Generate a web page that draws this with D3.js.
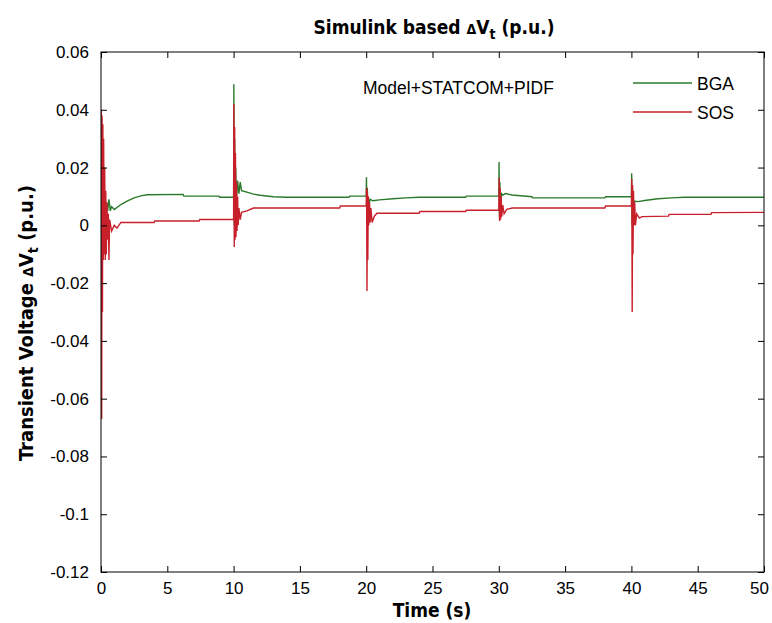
<!DOCTYPE html>
<html>
<head>
<meta charset="utf-8">
<script src="https://cdn.jsdelivr.net/npm/d3@7"></script>
<style>
  body { margin: 0; background: #fff; }
  text { fill: #000; }
</style>
</head>
<body>
<div id="chart"></div>
<script>
// time ticks and voltage ticks
var xTicks = [0, 5, 10, 15, 20, 25, 30, 35, 40, 45, 50];
var yTicks = [0.06, 0.04, 0.02, 0, -0.02, -0.04, -0.06, -0.08, -0.1, -0.12];

// BGA response [time s, dVt p.u.]
var bgaPoints = [
    [0, 0], [0.03, 0.0125], [0.06, 0.0], [0.1, 0.011], [0.14, 0.002], [0.2, 0.009], [0.3, 0.004],
    [0.4, 0.008], [0.5, 0.005], [0.6, 0.009], [0.7, 0.005], [0.8, 0.0065], [1.0, 0.0055],
    [1.5, 0.0072], [2.0, 0.0085], [2.5, 0.0095], [3.0, 0.0102], [3.5, 0.0106], [6.2, 0.0107],
    [6.25, 0.0101], [8.9, 0.0101], [8.95, 0.0097], [9.98, 0.0097],
    [10, 0.0097], [10.02, 0.0488], [10.05, 0.0], [10.08, 0.03], [10.12, 0.005], [10.16, 0.02],
    [10.2, 0.008], [10.3, 0.0155], [10.4, 0.011], [10.5, 0.015], [10.6, 0.012], [11, 0.0115],
    [11.5, 0.0108], [12, 0.0104], [13, 0.0099], [14, 0.0097], [18.7, 0.0097], [18.75, 0.0101],
    [19.98, 0.0101],
    [20, 0.0101], [20.02, 0.0166], [20.05, 0.002], [20.08, 0.013], [20.12, 0.005], [20.16, 0.01],
    [20.2, 0.0073], [20.3, 0.009], [20.5, 0.0085], [21, 0.0088], [22, 0.0092], [23, 0.0095],
    [24, 0.0097], [27.5, 0.0097], [27.55, 0.0101], [29.98, 0.0101],
    [30, 0.0101], [30.02, 0.0219], [30.05, 0.003], [30.08, 0.015], [30.12, 0.007], [30.2, 0.011],
    [30.3, 0.0105], [30.5, 0.011], [31, 0.0105], [32.5, 0.0099], [32.55, 0.0095], [38, 0.0095],
    [38.05, 0.0099], [39.98, 0.0099],
    [40, 0.0099], [40.02, 0.018], [40.05, 0.0], [40.08, 0.012], [40.12, 0.004], [40.2, 0.0084],
    [40.5, 0.0082], [41, 0.0086], [42, 0.0092], [43, 0.0095], [44, 0.0097], [50, 0.0097]
];

// SOS response [time s, dVt p.u.]
var sosPoints = [
    [0, 0], [0.02, 0.040], [0.05, -0.067], [0.08, 0.038], [0.11, -0.03], [0.14, 0.035],
    [0.17, -0.012], [0.2, 0.03], [0.24, -0.01], [0.28, 0.02], [0.32, -0.012], [0.36, 0.012],
    [0.4, -0.01], [0.45, 0.008], [0.5, -0.005], [0.55, 0.004], [0.6, -0.012], [0.65, 0.002],
    [0.8, -0.002], [1.0, 0.0], [1.2, -0.001], [1.5, 0.001], [4.0, 0.001], [4.05, 0.0015],
    [7.4, 0.0015], [7.45, 0.002], [9.98, 0.002],
    [10, 0.002], [10.02, 0.042], [10.05, -0.0075], [10.08, 0.034], [10.11, -0.005], [10.14, 0.025],
    [10.18, -0.004], [10.22, 0.015], [10.26, -0.002], [10.3, 0.01], [10.35, 0.0], [10.4, 0.006],
    [10.5, 0.002], [10.6, 0.0045], [11.0, 0.005], [11.5, 0.006], [18.0, 0.006], [18.05, 0.0067],
    [19.98, 0.0067],
    [20, 0.0067], [20.03, 0.013], [20.06, -0.0227], [20.09, 0.012], [20.12, -0.012], [20.16, 0.01],
    [20.2, 0.0], [20.25, 0.008], [20.3, 0.001], [20.35, 0.006], [20.45, 0.001], [20.6, 0.003],
    [20.8, 0.0042], [24, 0.0042], [24.05, 0.0048], [27.5, 0.0048], [27.55, 0.0052], [29.98, 0.0052],
    [30, 0.0052], [30.03, 0.0165], [30.06, 0.0015], [30.1, 0.013], [30.14, 0.002], [30.18, 0.01],
    [30.22, 0.003], [30.3, 0.007], [30.4, 0.004], [30.6, 0.0055], [31, 0.006], [38, 0.006],
    [38.05, 0.0067], [39.98, 0.0067],
    [40, 0.0067], [40.03, 0.016], [40.06, -0.030], [40.09, 0.014], [40.12, -0.01], [40.16, 0.012],
    [40.2, 0.0], [40.25, 0.008], [40.3, 0.0], [40.4, 0.004], [40.6, 0.0025], [40.8, 0.003],
    [42.8, 0.0032], [42.85, 0.0038], [46, 0.0038], [46.05, 0.0044], [50, 0.0045]
];

var seriesNames = ["BGA", "SOS"];
var seriesColors = ["#2b7a2b", "#c8202a"];

const margin = {top: 52, right: 8, bottom: 51, left: 101},
    width = 772 - margin.left - margin.right,
    height = 623 - margin.top - margin.bottom;

const narrow = "'Liberation Sans Narrow', 'DejaVu Sans Condensed', Arial, sans-serif";
const regular = "'Liberation Sans', Arial, sans-serif";

const svgRoot = d3.select("#chart")
    .append("svg")
    .attr("width", 772)
    .attr("height", 623);

const svg = svgRoot.append("g")
    .attr("transform", `translate(${margin.left}, ${margin.top})`);

const x = d3.scaleLinear().domain([0, 50]).range([0, width]);
const y = d3.scaleLinear().domain([-0.12, 0.06]).range([height, 0]);

// clip
svg.append("defs").append("clipPath").attr("id", "clip")
    .append("rect").attr("width", width).attr("height", height);

// lines
const line = d3.line().x(d => x(d[0])).y(d => y(d[1]));
const plot = svg.append("g").attr("clip-path", "url(#clip)");
plot.append("path").datum(bgaPoints)
    .attr("fill", "none").attr("stroke", seriesColors[0]).attr("stroke-width", 1.4)
    .attr("d", line);
plot.append("path").datum(sosPoints)
    .attr("fill", "none").attr("stroke", seriesColors[1]).attr("stroke-width", 1.4)
    .attr("d", line);

// axes, ticks pointing inwards like matlab
function fmt(d) { return d === 0 ? "0" : String(d); }
const xAxis = svg.append("g")
    .attr("transform", `translate(0, ${height})`)
    .call(d3.axisBottom(x).tickValues(xTicks).tickFormat(fmt).tickSize(-6).tickPadding(10).tickSizeOuter(0));
const yAxis = svg.append("g")
    .call(d3.axisLeft(y).tickValues(yTicks).tickFormat(fmt).tickSize(-6).tickPadding(12).tickSizeOuter(0));
svg.append("g")
    .call(d3.axisTop(x).tickValues(xTicks).tickFormat("").tickSize(-6).tickSizeOuter(0));
svg.append("g")
    .attr("transform", `translate(${width}, 0)`)
    .call(d3.axisRight(y).tickValues(yTicks).tickFormat("").tickSize(-6).tickSizeOuter(0));

svg.selectAll(".domain").remove();
svg.selectAll(".tick line").attr("stroke", "#000");
svg.selectAll(".tick text")
    .attr("font-family", regular)
    .attr("font-size", "17px")
    .attr("fill", "#000");
// last label sits against the window edge
xAxis.selectAll(".tick text").filter(d => d === 50).attr("dx", -5);

svg.append("rect")
    .attr("width", width).attr("height", height)
    .attr("fill", "none").attr("stroke", "#000").attr("stroke-width", 1);

// title
const title = svgRoot.append("text")
    .attr("x", 434).attr("y", 34)
    .attr("text-anchor", "middle")
    .attr("font-family", narrow).attr("font-weight", "bold").attr("font-size", "19px");
title.append("tspan").text("Simulink based ");
title.append("tspan").attr("font-size", "14px").text("Δ");
title.append("tspan").text("V");
title.append("tspan").attr("font-size", "14px").attr("dy", 5).text("t");
title.append("tspan").attr("dy", -5).text(" (p.u.)");

// x label
svgRoot.append("text")
    .attr("x", 432).attr("y", 617)
    .attr("text-anchor", "middle")
    .attr("font-family", narrow).attr("font-weight", "bold").attr("font-size", "19px")
    .text("Time (s)");

// y label
const ylab = svgRoot.append("text")
    .attr("transform", "translate(33, 323) rotate(-90)")
    .attr("text-anchor", "middle")
    .attr("font-family", narrow).attr("font-weight", "bold").attr("font-size", "20px");
ylab.append("tspan").text("Transient Voltage ");
ylab.append("tspan").attr("font-size", "14px").text("Δ");
ylab.append("tspan").text("V");
ylab.append("tspan").attr("font-size", "14px").attr("dy", 5).text("t");
ylab.append("tspan").attr("dy", -5).text(" (p.u.)");

// annotation + legend
svg.append("text")
    .attr("x", 363 - margin.left).attr("y", 94 - margin.top)
    .attr("font-family", regular).attr("font-size", "17.5px")
    .text("Model+STATCOM+PIDF");

const legend = svg.selectAll(".legend")
    .data(seriesNames)
    .enter()
    .append("g")
    .attr("class", "legend")
    .attr("transform", (d, i) => `translate(${633 - margin.left}, ${83 - margin.top + i * 29})`);
legend.append("line")
    .attr("x1", 0).attr("x2", 59)
    .attr("stroke", (d, i) => seriesColors[i]).attr("stroke-width", 1.4);
legend.append("text")
    .attr("x", 64).attr("y", 7)
    .attr("font-family", regular).attr("font-size", "17.5px")
    .text(d => d);
</script>
</body>
</html>
